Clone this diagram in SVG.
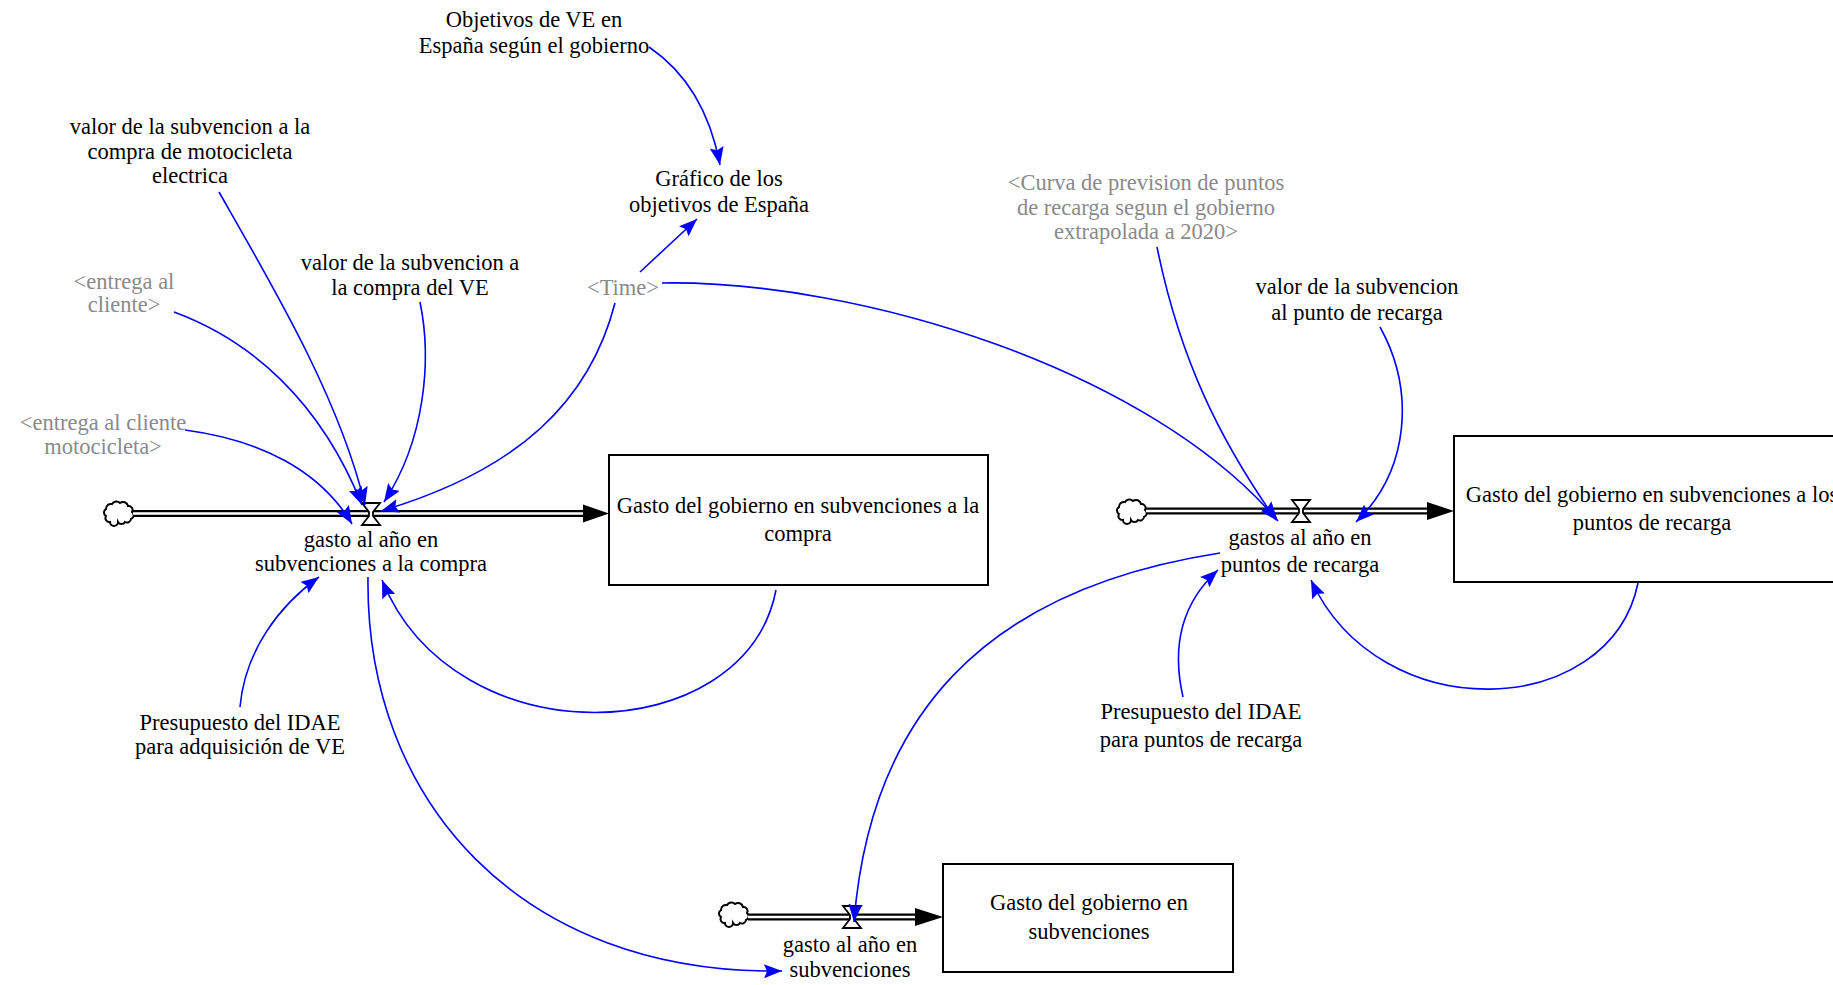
<svg xmlns="http://www.w3.org/2000/svg" width="1833" height="985" viewBox="0 0 1833 985">
<style>
text{font-family:"Liberation Serif","Times New Roman",serif;font-size:22.5px;fill:#000;text-anchor:middle}
text.g{fill:#8a8a8a}
.stock{fill:#fff;stroke:#000;stroke-width:2}
.pipeo{stroke:#000;stroke-width:7;fill:none}
.pipei{stroke:#fff;stroke-width:2.5;fill:none}
.link{fill:none;stroke:#0000ff;stroke-width:1.6}
.valve{fill:#fff;stroke:#000;stroke-width:1.8}
.cloud{fill:#fff;stroke:#000;stroke-width:2}
</style>
<defs>
<marker id="arr" markerUnits="userSpaceOnUse" markerWidth="20" markerHeight="14" refX="18" refY="7" orient="auto">
<path d="M0,0 L18,7 L0,14 L3,7 z" fill="#0000ff"/>
</marker>
<path id="cloudShape" class="cloud" d="M-9,9 a4,4 0 0 1 -4,-6 a4,4 0 0 1 0,-7 a5,5 0 0 1 6,-5 a5,5 0 0 1 8,-1 a5,5 0 0 1 8,3 a4,4 0 0 1 4,6 a4,4 0 0 1 -1,7 a4,4 0 0 1 -6,3 a4,4 0 0 1 -7,0 a4,4 0 0 1 -8,0 z"/>
<path id="valveShape" class="valve" d="M-9,-11 H9 L2,-2 V2 L9,11 H-9 L-2,2 V-2 Z"/>
</defs>
<rect width="1833" height="985" fill="#fff"/>

<g id="flow1">
<use href="#cloudShape" x="119" y="513"/>
<line class="pipeo" x1="133" y1="513.5" x2="586" y2="513.5"/>
<line class="pipei" x1="133" y1="513.5" x2="586" y2="513.5"/>
<polygon points="583,504.5 609,513.5 583,522.5" fill="#000"/>
<use href="#valveShape" x="371" y="514"/>
<text x="371" y="547">gasto al año en</text>
<text x="371" y="571">subvenciones a la compra</text>
</g>

<g id="flow2">
<use href="#cloudShape" x="1132" y="511"/>
<line class="pipeo" x1="1146" y1="511" x2="1430" y2="511"/>
<line class="pipei" x1="1146" y1="511" x2="1430" y2="511"/>
<polygon points="1427,502 1454,511 1427,520" fill="#000"/>
<use href="#valveShape" x="1301" y="511"/>
<text x="1300" y="545">gastos al año en</text>
<text x="1300" y="572">puntos de recarga</text>
</g>

<g id="flow3">
<use href="#cloudShape" x="734" y="914"/>
<line class="pipeo" x1="748" y1="917" x2="918" y2="917"/>
<line class="pipei" x1="748" y1="917" x2="918" y2="917"/>
<polygon points="915,908 943,917 915,926" fill="#000"/>
<use href="#valveShape" x="852" y="917"/>
<text x="850" y="952">gasto al año en</text>
<text x="850" y="977">subvenciones</text>
</g>

<g id="stock1">
<rect class="stock" x="609" y="455" width="379" height="130"/>
<text x="798" y="513">Gasto del gobierno en subvenciones a la</text>
<text x="798" y="541">compra</text>
</g>

<g id="stock2">
<rect class="stock" x="1454" y="436" width="430" height="146"/>
<text x="1652" y="502">Gasto del gobierno en subvenciones a los</text>
<text x="1652" y="530">puntos de recarga</text>
</g>

<g id="stock3">
<rect class="stock" x="943" y="864" width="290" height="108"/>
<text x="1089" y="910">Gasto del gobierno en</text>
<text x="1089" y="939">subvenciones</text>
</g>

<g id="objetivos">
<text x="534" y="27">Objetivos de VE en</text>
<text x="534" y="53">España según el gobierno</text>
</g>

<g id="grafico">
<text x="719" y="186">Gráfico de los</text>
<text x="719" y="212">objetivos de España</text>
</g>

<g id="valorMoto">
<text x="190" y="134">valor de la subvencion a la</text>
<text x="190" y="159">compra de motocicleta</text>
<text x="190" y="183">electrica</text>
</g>

<g id="valorVE">
<text x="410" y="270">valor de la subvencion a</text>
<text x="410" y="295">la compra del VE</text>
</g>

<g id="entregaCliente">
<text class="g" x="124" y="289">&lt;entrega al</text>
<text class="g" x="124" y="312">cliente&gt;</text>
</g>

<g id="time">
<text class="g" x="623" y="295">&lt;Time&gt;</text>
</g>

<g id="entregaMoto">
<text class="g" x="103" y="430">&lt;entrega al cliente</text>
<text class="g" x="103" y="454">motocicleta&gt;</text>
</g>

<g id="curva">
<text class="g" x="1146" y="190">&lt;Curva de prevision de puntos</text>
<text class="g" x="1146" y="215">de recarga segun el gobierno</text>
<text class="g" x="1146" y="239">extrapolada a 2020&gt;</text>
</g>

<g id="valorPunto">
<text x="1357" y="294">valor de la subvencion</text>
<text x="1357" y="320">al punto de recarga</text>
</g>

<g id="presupuestoVE">
<text x="240" y="730">Presupuesto del IDAE</text>
<text x="240" y="754">para adquisición de VE</text>
</g>

<g id="presupuestoPuntos">
<text x="1201" y="719">Presupuesto del IDAE</text>
<text x="1201" y="747">para puntos de recarga</text>
</g>

<g id="connectors">
<path class="link" marker-end="url(#arr)" d="M649,47 Q705,85 720,165"/>
<path class="link" marker-end="url(#arr)" d="M640,272 L697,219"/>
<path class="link" marker-end="url(#arr)" d="M615,303 C590,400 520,470 381,511"/>
<path class="link" marker-end="url(#arr)" d="M662,283 C860,280 1150,370 1278,521"/>
<path class="link" marker-end="url(#arr)" d="M219,192 C275,290 340,400 365,505"/>
<path class="link" marker-end="url(#arr)" d="M420,302 C432,360 425,440 384,502"/>
<path class="link" marker-end="url(#arr)" d="M174,312 C250,340 320,400 362,505"/>
<path class="link" marker-end="url(#arr)" d="M185,430 C260,440 320,470 352,524"/>
<path class="link" marker-end="url(#arr)" d="M240,707 C245,650 280,605 319,577"/>
<path class="link" marker-end="url(#arr)" d="M776,590 C745,750 455,760 382,580"/>
<path class="link" marker-end="url(#arr)" d="M368,577 C365,800 520,975 782,971"/>
<path class="link" marker-end="url(#arr)" d="M1157,247 C1180,360 1220,440 1276,520"/>
<path class="link" marker-end="url(#arr)" d="M1380,327 C1415,390 1410,470 1356,522"/>
<path class="link" marker-end="url(#arr)" d="M1183,697 C1170,640 1185,600 1218,570"/>
<path class="link" marker-end="url(#arr)" d="M1638,583 C1610,720 1380,730 1311,580"/>
<path class="link" marker-end="url(#arr)" d="M1220,553 C980,590 870,720 854,922"/>
</g>
</svg>
